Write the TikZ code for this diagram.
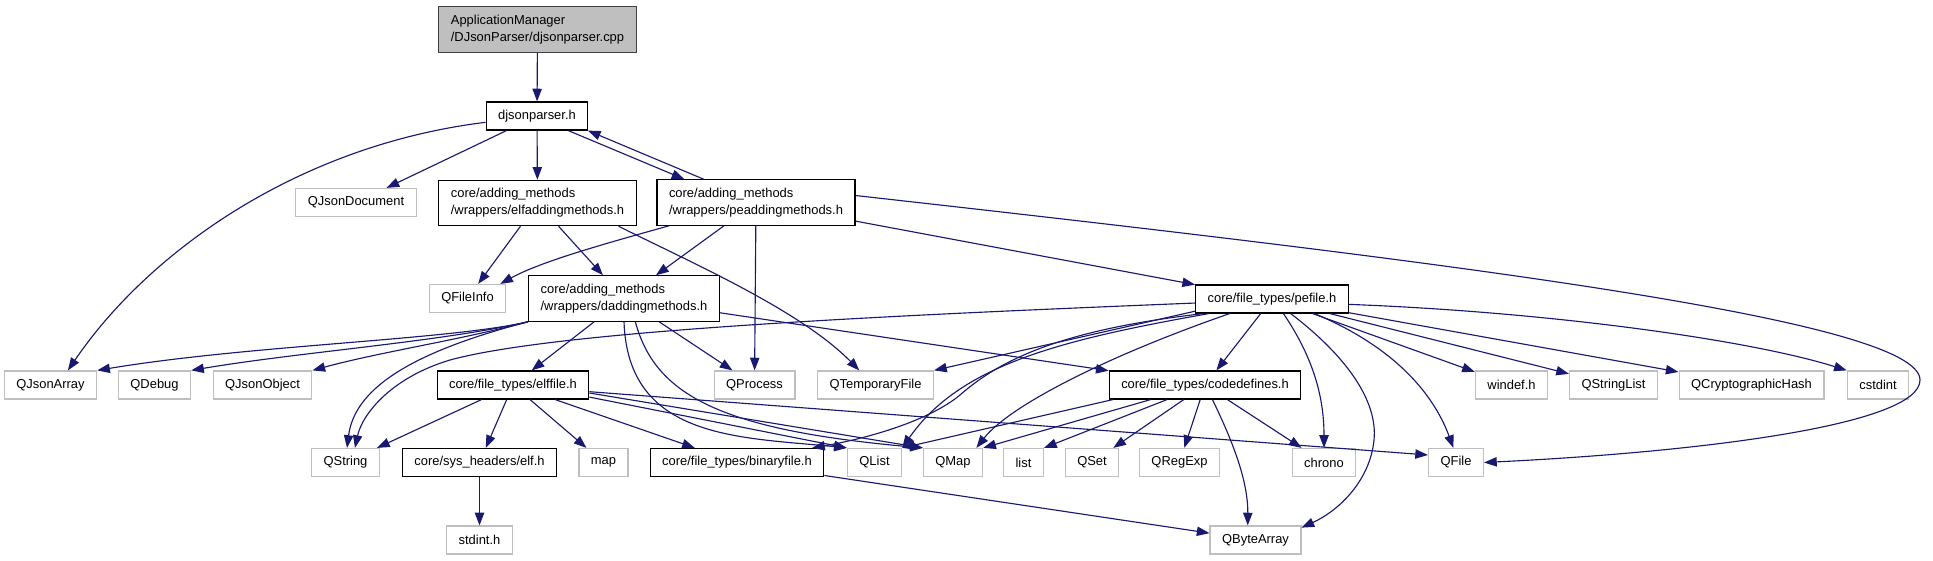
\documentclass[tikz,border=0pt]{standalone}
\usepackage{fontspec}
\setmainfont{Liberation Sans}
\usepackage{tikz}
\usetikzlibrary{arrows.meta}
\definecolor{edgeblue}{HTML}{191970}
\definecolor{sysgray}{HTML}{BFBFBF}
\definecolor{rootfill}{HTML}{BFBFBF}
\definecolor{rootline}{HTML}{404040}

\begin{document}
\begin{tikzpicture}[x=0.75pt,y=-0.75pt,
  every node/.style={font=\fontsize{9.7}{12.75}\selectfont,align=left,inner xsep=9pt,inner ysep=0pt,minimum height=21pt},
  hdr/.style={draw=black,line width=0.9pt},
  sys/.style={draw=sysgray,line width=0.9pt},
  root/.style={draw=rootline,fill=rootfill,line width=0.9pt},
  two/.style={minimum height=34pt},
  dep/.style={draw=edgeblue,line width=0.85pt,-{Triangle[length=9.5pt,width=7pt]}}]
\useasboundingbox (0,0) rectangle (1933,560);

% files of the project
\node[root,two] (cpp) at (537.5,29.5) {ApplicationManager\\/DJsonParser/djsonparser.cpp};
\node[hdr] (djson) at (537,116) {djsonparser.h};
\node[hdr,two] (elfadd) at (537.5,203) {core/adding\_methods\\/wrappers/elfaddingmethods.h};
\node[hdr,two] (peadd) at (756,202.5) {core/adding\_methods\\/wrappers/peaddingmethods.h};
\node[hdr,two] (dadd) at (624,298.5) {core/adding\_methods\\/wrappers/daddingmethods.h};
\node[hdr] (pefile) at (1272,299) {core/file\_types/pefile.h};
\node[hdr] (elffile) at (513,385) {core/file\_types/elffile.h};
\node[hdr] (codedef) at (1205,385) {core/file\_types/codedefines.h};
\node[hdr] (elfh) at (479.5,462.5) {core/sys\_headers/elf.h};
\node[hdr] (binfile) at (737,462.5) {core/file\_types/binaryfile.h};

% system and Qt headers
\node[sys] (qjdoc) at (356,202.5) {QJsonDocument};
\node[sys] (qfinfo) at (467.5,298.5) {QFileInfo};
\node[sys] (qjarr) at (50.5,385) {QJsonArray};
\node[sys] (qdebug) at (154.5,385) {QDebug};
\node[sys] (qjobj) at (262.5,385) {QJsonObject};
\node[sys] (qproc) at (754.5,385) {QProcess};
\node[sys] (qtemp) at (875.5,385) {QTemporaryFile};
\node[sys] (windef) at (1511.5,385) {windef.h};
\node[sys] (qslist) at (1613.5,385) {QStringList};
\node[sys] (qcrypt) at (1751.5,385) {QCryptographicHash};
\node[sys] (cstdint) at (1878,385) {cstdint};
\node[sys] (qstr) at (345.5,462.5) {QString};
\node[sys] (map) at (603.5,462.5) {map};
\node[sys] (qlist) at (874.5,462.5) {QList};
\node[sys] (qmap) at (953,462.5) {QMap};
\node[sys] (list) at (1023.5,462.5) {list};
\node[sys] (qset) at (1092,462.5) {QSet};
\node[sys] (qregexp) at (1179.5,462.5) {QRegExp};
\node[sys] (chrono) at (1324,462.5) {chrono};
\node[sys] (qfile) at (1456,462.5) {QFile};
\node[sys] (stdint) at (479.5,540) {stdint.h};
\node[sys] (qbarr) at (1255.5,540) {QByteArray};

% includes
\draw[dep] (cpp) -- (djson);
\draw[dep] (djson) -- (qjdoc);
\draw[dep] (djson) -- (elfadd);
\draw[dep] (djson.-25) -- (peadd.162);
\draw[dep] (peadd.156) -- (djson.-16);
\draw[dep] (djson.187) .. controls (300,145) and (150,250) .. (qjarr.40);

\draw[dep] (elfadd) -- (qfinfo);
\draw[dep] (elfadd) -- (dadd);
\draw[dep] (elfadd.-16) .. controls (690,262) and (800,310) .. (qtemp.138);

\draw[dep] (peadd.-165) .. controls (600,245) and (540,262) .. (qfinfo.24);
\draw[dep] (peadd) -- (dadd);
\draw[dep] (peadd) -- (qproc);
\draw[dep] (peadd) -- (pefile);
\draw[dep] (peadd.4) .. controls (1450,262) and (1920,320) .. (1920,380) .. controls (1920,425) and (1700,452) .. (qfile.east);

\draw[dep] (dadd.south west) .. controls (450,340) and (250,345) .. (qjarr.north east);
\draw[dep] (dadd.south west) .. controls (440,342) and (300,352) .. (qdebug.north east);
\draw[dep] (dadd.south west) .. controls (460,340) and (380,352) .. (qjobj.north east);
\draw[dep] (dadd.south west) .. controls (420,350) and (355,385) .. (qstr.84);
\draw[dep] (dadd) -- (elffile);
\draw[dep] (dadd.south) .. controls (628,440) and (740,437) .. (qlist.north west);
\draw[dep] (dadd.-64) .. controls (655,395) and (720,430) .. (qmap.north west);
\draw[dep] (dadd) -- (qproc);
\draw[dep] (dadd) -- (codedef);

\draw[dep] (elffile) -- (qstr);
\draw[dep] (elffile) -- (elfh);
\draw[dep] (elffile) -- (map);
\draw[dep] (elffile) -- (binfile);
\draw[dep] (elffile.-9.5) -- (qlist.north west);
\draw[dep] (elffile.-6) -- (qmap.north west);
\draw[dep] (elffile.-5) -- (qfile.165);
\draw[dep] (elfh) -- (stdint);
\draw[dep] (binfile) -- (qbarr);

\draw[dep] (pefile.183) .. controls (900,315) and (560,330) .. (450,360) .. controls (390,378) and (362,415) .. (qstr.57);
\draw[dep] (pefile.189) -- (qtemp.north east);
\draw[dep] (pefile.192) .. controls (1060,330) and (1000,360) .. (960,395) .. controls (930,420) and (870,438) .. (binfile.11);
\draw[dep] (pefile.193) .. controls (1060,340) and (960,365) .. (qlist.north east);
\draw[dep] (pefile.199) .. controls (1110,355) and (1010,405) .. (qmap.32);
\draw[dep] (pefile) -- (codedef);
\draw[dep] (pefile.-52) .. controls (1315,360) and (1324,400) .. (chrono.north);
\draw[dep] (pefile.-38) .. controls (1345,355) and (1378,400) .. (1374,440) .. controls (1370,480) and (1340,510) .. (qbarr.15);
\draw[dep] (pefile.-19) .. controls (1390,345) and (1432,390) .. (qfile.100);
\draw[dep] (pefile) -- (windef);
\draw[dep] (pefile) -- (qslist);
\draw[dep] (pefile) -- (qcrypt);
\draw[dep] (pefile.-4) .. controls (1550,312) and (1750,340) .. (cstdint.north west);

\draw[dep] (codedef.189) -- (qlist.north east);
\draw[dep] (codedef.195) -- (qmap.north east);
\draw[dep] (codedef.201) -- (list.north east);
\draw[dep] (codedef) -- (qset);
\draw[dep] (codedef) -- (qregexp);
\draw[dep] (codedef.-63) .. controls (1232,440) and (1248,480) .. (qbarr.118);
\draw[dep] (codedef) -- (chrono);
\end{tikzpicture}
\end{document}
